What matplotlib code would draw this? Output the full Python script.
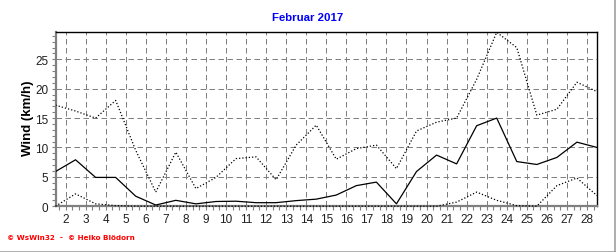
import matplotlib
matplotlib.use("Agg")
import matplotlib.pyplot as plt
from matplotlib.lines import Line2D
from matplotlib.ticker import MultipleLocator, FixedLocator
import numpy as np

days = list(range(1, 29))
wind_avg = [5.9, 7.9, 4.9, 4.9, 1.7, 0.2, 1.0, 0.4, 0.8, 0.85, 0.6, 0.6, 0.95, 1.2,
            1.9, 3.5, 4.1, 0.4, 5.9, 8.7, 7.2, 13.7, 15.0, 7.6, 7.1, 8.3, 10.9, 10.0]
wind_max = [17.2, 16.2, 15.0, 18.0, 9.5, 2.4, 9.2, 3.0, 4.9, 8.1, 8.4, 4.5, 10.4, 13.8,
            8.0, 9.8, 10.4, 6.4, 12.8, 14.3, 15.0, 21.6, 29.6, 27.0, 15.5, 16.5, 21.1, 19.5]
wind_min = [0.0, 2.1, 0.4, 0.1, 0.0, 0.0, 0.0, 0.0, 0.0, 0.0, 0.0, 0.0, 0.0, 0.0,
            0.0, 0.0, 0.0, 0.0, 0.0, 0.0, 0.7, 2.4, 1.0, 0.1, 0.0, 3.5, 4.8, 1.8]
tick_days = list(range(2, 29))
title = "Februar 2017"
ylabel = "Wind (km/h)"
credit = "\u00a9 WsWin32  -  \u00a9 Heiko Bl\u00f6dorn"

W, H = 616, 253
fig = plt.figure(figsize=(W / 100, H / 100), dpi=100)
fig.patch.set_facecolor("white")
ax = fig.add_axes([55.5 / W, 1 - 207.2 / H, (597 - 55.5) / W, (207.2 - 33.3) / H])

x = np.array(days) + 0.5
ax.plot(x, wind_max, color="black", lw=0.9, linestyle=(0, (1, 1.6)), zorder=3)
ax.plot(x, wind_min, color="black", lw=0.9, linestyle=(0, (1, 1.6)), zorder=3, clip_on=False)
ax.plot(x, wind_avg, color="black", lw=0.9, zorder=4)

ax.set_xlim(1.5, 28.5)
ax.set_ylim(0, 29.6)

ax.xaxis.set_major_locator(FixedLocator(tick_days))
ax.set_xticklabels([str(d) for d in tick_days])
ax.xaxis.set_minor_locator(MultipleLocator(1 / 3))
ax.yaxis.set_major_locator(FixedLocator([0, 5, 10, 15, 20, 25]))
ax.yaxis.set_minor_locator(MultipleLocator(1))

grid_kw = dict(color="#808080", lw=0.72, linestyle=(0, (5.5, 3.5)))
ax.grid(True, which="major", **grid_kw)
ax.set_axisbelow(True)

for s in ["top", "right"]:
    ax.spines[s].set_color("black")
    ax.spines[s].set_linewidth(1.0)
for s in ["left", "bottom"]:
    ax.spines[s].set_color("#808080")
    ax.spines[s].set_linewidth(1.6)

ax.tick_params(axis="both", which="both", direction="out", color="#808080",
               labelsize=8.5, labelcolor="#202020", width=0.8)
ax.tick_params(axis="both", which="major", length=3, pad=2)
ax.tick_params(axis="both", which="minor", length=3)
for lab in ax.get_xticklabels() + ax.get_yticklabels():
    lab.set_family("Liberation Sans")

fig.text(308 / W, 1 - 18 / H, title, color="#0000ff", fontsize=8.2, fontweight="bold",
         family="Liberation Sans", ha="center", va="center")
fig.text(28 / W, 1 - 118 / H, ylabel, color="black", fontsize=9.5, fontweight="bold",
         family="Liberation Sans", rotation=90, ha="center", va="center")
fig.text(7 / W, 1 - 238.5 / H, credit, color="#ff0000", fontsize=5.2, fontweight="bold",
         family="DejaVu Sans", ha="left", va="center")

# outer frame (right and bottom edges)
fig.add_artist(Line2D([0, 1], [0.5 / H, 0.5 / H], transform=fig.transFigure,
                      color="#a0a0a0", lw=1.2))
fig.add_artist(Line2D([1 - 1.0 / W, 1 - 1.0 / W], [0, 1], transform=fig.transFigure,
                      color="#a0a0a0", lw=1.2))

fig.savefig("out.png", dpi=100, facecolor="white")
